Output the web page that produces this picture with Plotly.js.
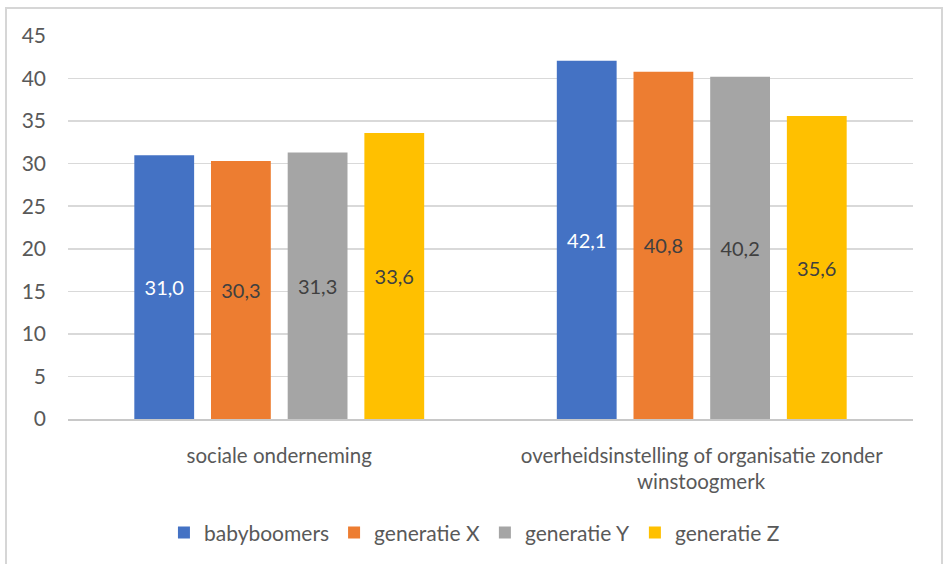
<!DOCTYPE html>
<html>
<head>
<meta charset="utf-8">
<script src="https://cdn.plot.ly/plotly-3.0.1.min.js"></script>
<style>
  html, body { margin: 0; padding: 0; background: #ffffff; }
  #wrap { position: relative; width: 944px; height: 564px; overflow: hidden; }
  #chart { width: 944px; height: 564px; }
  #frame {
    position: absolute; left: 5px; top: 7px; width: 934px; height: 570px;
    border: 2px solid #D6D6D6; pointer-events: none;
  }
</style>
</head>
<body>
<div id="wrap">
  <div id="chart"></div>
  <div id="frame"></div>
</div>
<script>
// Categories (the second label wraps onto a second line below the axis)
const categories = ["sociale onderneming", "overheidsinstelling of organisatie zonder"];
const categoryLine2 = "winstoogmerk";

// Series per generation
const seriesNames = ["babyboomers", "generatie X", "generatie Y", "generatie Z"];
const babyboomers = [31.0, 42.1];
const generatieX  = [30.3, 40.8];
const generatieY  = [31.3, 40.2];
const generatieZ  = [33.6, 35.6];

const yTicks = [0, 5, 10, 15, 20, 25, 30, 35, 40, 45];

const seriesValues = [babyboomers, generatieX, generatieY, generatieZ];
const seriesColors = ["#4472C4", "#ED7D31", "#A5A5A5", "#FFC000"];
const labelColors  = ["#FFFFFF", "#404040", "#404040", "#404040"];

const FONT = "Lato, 'Open Sans', sans-serif";
const xIdx = categories.map((_, i) => i);

const fmt = v => v.toFixed(1).replace(".", ",");

const traces = seriesValues.map((vals, k) => ({
  type: "bar",
  name: seriesNames[k],
  x: xIdx,
  y: vals,
  marker: { color: seriesColors[k], line: { width: 0 } },
  text: vals.map(fmt),
  texttemplate: "%{text}",
  textposition: "inside",
  insidetextanchor: "middle",
  textangle: 0,
  constraintext: "none",
  textfont: { family: FONT, size: 20, color: labelColors[k] },
  hoverinfo: "skip"
}));

const layout = {
  width: 944,
  height: 564,
  margin: { l: 68, r: 31, t: 36, b: 144, pad: 0 },
  paper_bgcolor: "#FFFFFF",
  plot_bgcolor: "#FFFFFF",
  barmode: "group",
  bargap: 0.274,
  bargroupgap: 0.22,
  font: { family: FONT, color: "#595959" },
  xaxis: {
    tickmode: "array",
    tickvals: xIdx,
    ticktext: categories,
    range: [-0.5, categories.length - 0.5],
    showgrid: false,
    zeroline: false,
    showline: true,
    linecolor: "#C8C8C8",
    linewidth: 1.5,
    ticks: "",
    ticklabelstandoff: 18,
    tickfont: { family: FONT, size: 20.5, color: "#595959" },
    fixedrange: true
  },
  yaxis: {
    range: [0, 45],
    tickmode: "array",
    tickvals: yTicks,
    ticktext: yTicks.map(String),
    showgrid: true,
    gridcolor: "#D9D9D9",
    gridwidth: 1.5,
    zeroline: false,
    showline: false,
    ticks: "",
    ticklabelstandoff: 21,
    tickfont: { family: FONT, size: 21, color: "#595959" },
    fixedrange: true
  },
  showlegend: true,
  legend: {
    orientation: "h",
    x: 0.481,
    xanchor: "center",
    y: -0.294,
    yanchor: "middle",
    font: { family: FONT, size: 21, color: "#595959" },
    traceorder: "normal",
    itemclick: false,
    itemdoubleclick: false
  },
  annotations: [{
    x: 1,
    xref: "x",
    y: -0.1615,
    yref: "paper",
    yanchor: "middle",
    text: categoryLine2,
    showarrow: false,
    font: { family: FONT, size: 20.5, color: "#595959" }
  }]
};

Plotly.newPlot("chart", traces, layout, { displayModeBar: false, staticPlot: true });
</script>
</body>
</html>
